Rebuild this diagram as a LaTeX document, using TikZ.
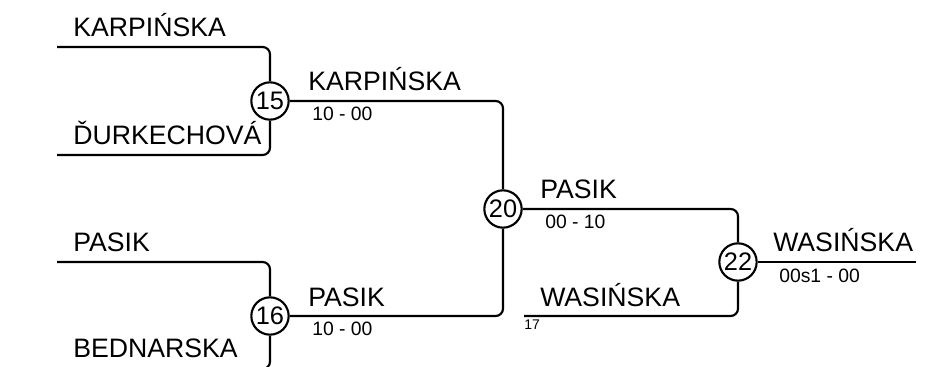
\documentclass[tikz,border=0pt]{standalone}
\usepackage{fontspec}
\setmainfont{Liberation Sans}
\begin{document}
\begin{tikzpicture}[x=0.75pt,y=-0.75pt,
  wire/.style={line width=1.6pt,rounded corners=5.5pt},
  matchcirc/.style={circle,draw,line width=1.6pt,minimum size=28pt,inner sep=0pt,fill=white,font=\fontsize{19}{19}\selectfont},
  plabel/.style={anchor=base west,inner sep=0pt,font=\fontsize{20}{20}\selectfont},
  slabel/.style={anchor=north west,inner sep=0pt,font=\fontsize{14.5}{14.5}\selectfont},
  seedlabel/.style={anchor=north west,inner sep=0pt,font=\fontsize{10.5}{10.5}\selectfont}]
\useasboundingbox (0,0) rectangle (946,367);
\clip (0,0) rectangle (946,367);
% match circles
\node[matchcirc] (c15) at (270,101) {15};
\node[matchcirc] (c16) at (270,316) {16};
\node[matchcirc] (c20) at (503,209) {20};
\node[matchcirc] (c22) at (738,262) {22};
% free ends
\coordinate (a1) at (57,47);
\coordinate (a2) at (57,155);
\coordinate (b1) at (57,262);
\coordinate (b2) at (57,369);
\coordinate (w17) at (524,316);
\coordinate (fin) at (916,262);
% connectors
\draw[wire] (a1) -| (c15);
\draw[wire] (a2) -| (c15);
\draw[wire] (b1) -| (c16);
\draw[wire] (b2) -| (c16);
\draw[wire] (c15) -| (c20);
\draw[wire] (c16) -| (c20);
\draw[wire] (c20) -| (c22);
\draw[wire] (w17) -| (c22);
\draw[wire] (c22) -- (fin);
% names
\node[plabel] (n1) at (73,37) {KARPIŃSKA};
\node[plabel] (n2) at (73,145) {ĎURKECHOVÁ};
\node[plabel] (n3) at (73,252) {PASIK};
\node[plabel] (n4) at (73,357) {BEDNARSKA};
\node[plabel] (n5) at (308,91) {KARPIŃSKA};
\node[plabel] (n6) at (308,306) {PASIK};
\node[plabel] (n7) at (540,199) {PASIK};
\node[plabel] (n8) at (540,306) {WASIŃSKA};
\node[plabel] (n9) at (773,252) {WASIŃSKA};
% scores
\node[slabel] (s1) at (312,107) {10 - 00};
\node[slabel] (s2) at (312,322) {10 - 00};
\node[slabel] (s3) at (545,215) {00 - 10};
\node[slabel] (s4) at (779,269) {00s1 - 00};
\node[seedlabel] (t17) at (524,320) {17};
\end{tikzpicture}
\end{document}
